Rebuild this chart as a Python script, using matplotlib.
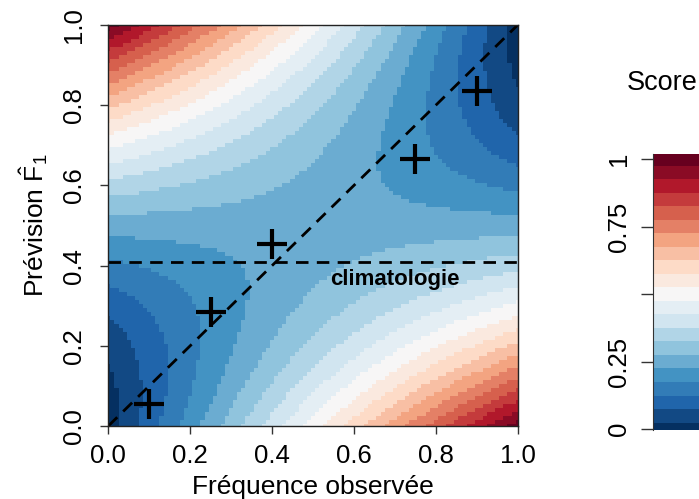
import numpy as np
import matplotlib as mpl
mpl.use('Agg')
from matplotlib import pyplot as plt
from matplotlib.colors import ListedColormap, BoundaryNorm

plt.rcParams['font.family'] = 'Liberation Sans'
plt.rcParams['mathtext.fontset'] = 'custom'
plt.rcParams['mathtext.rm'] = 'Liberation Sans'
plt.rcParams['mathtext.it'] = 'Liberation Sans'

# %%
# data
obsFreq = [0.10, 0.25, 0.40, 0.75, 0.90]
prevF1 = [0.055, 0.285, 0.455, 0.665, 0.835]
climato = 0.41
gridStep = 0.01
scoreLevels = np.arange(0, 1.0001, 0.05)
cbTicks = [0, 0.25, 0.5, 0.75, 1]
cbTickLabels = ['0', '0.25', '', '0.75', '1']
axTicks = [0.0, 0.2, 0.4, 0.6, 0.8, 1.0]

# %%
# Brier score on (observed frequency, forecast) grid
o = np.arange(0, 1 + gridStep / 2, gridStep)
f = np.arange(0, 1 + gridStep / 2, gridStep)
O, F = np.meshgrid(o, f)
score = O * (1 - F) ** 2 + (1 - O) * F ** 2
score = np.clip(score, 0, 1)

colors = plt.get_cmap('RdBu_r')(np.linspace(0, 1, len(scoreLevels)))
cmap = ListedColormap(colors)
bounds = np.concatenate([scoreLevels - 0.025, [scoreLevels[-1] + 0.025]])
norm = BoundaryNorm(bounds, cmap.N)

# %%
fig = plt.figure(figsize=(6.99, 4.99), dpi=100)
ax = fig.add_axes([108.3 / 699, 73 / 499, 409.4 / 699, 401 / 499])

edges = np.concatenate([o - gridStep / 2, [o[-1] + gridStep / 2]])
ax.pcolormesh(edges, edges, score, cmap=cmap, norm=norm, shading='flat')
ax.plot([0, 1], [0, 1], color='black', linestyle=(0, (4.5, 3)), linewidth=2)
ax.axhline(climato, color='black', linestyle=(0, (4.5, 3)), linewidth=2)
ax.plot(obsFreq, prevF1, linestyle='none', marker='+', markersize=22,
        markeredgewidth=3, color='black')
ax.text(0.7, 0.366, 'climatologie', fontsize=16, fontweight='bold',
        ha='center', va='center')

ax.set_xlim(0, 1)
ax.set_ylim(0, 1)
ax.set_xticks(axTicks)
ax.set_yticks(axTicks)
ax.set_xticklabels(['%.1f' % t for t in axTicks], fontsize=18.5)
ax.set_yticklabels(['%.1f' % t for t in axTicks], fontsize=18.5,
                   rotation=90, va='center')
ax.tick_params(axis='both', direction='out', length=6, width=1, color='#333333')
ax.tick_params(axis='x', pad=7)
ax.tick_params(axis='y', pad=10)
ax.set_xlabel('Fréquence observée', fontsize=19, labelpad=5)
ax.set_ylabel('Prévision $\\hat{\\mathrm{F}}_1$', fontsize=19, labelpad=9)
for s in ax.spines.values():
    s.set_color('#222222')
    s.set_linewidth(1)

# %%
# colour legend
cax = fig.add_axes([653 / 699, 68.9 / 499, 60 / 699, 275.7 / 499])
cax.pcolormesh([0, 1], bounds, scoreLevels.reshape(-1, 1), cmap=cmap, norm=norm)
cax.set_xlim(0, 1)
cax.set_ylim(-0.003, 1.017)
cax.set_xticks([])
cax.set_yticks(cbTicks)
cax.set_yticklabels(cbTickLabels, fontsize=18.5, rotation=90, va='center')
cax.tick_params(axis='y', direction='out', length=9, width=1, color='#333333', pad=7)
for k in ['top', 'right', 'bottom']:
    cax.spines[k].set_visible(False)
cax.spines['left'].set_color('#333333')
fig.text(627 / 699, (499 - 83) / 499, 'Score', fontsize=19.5, ha='left', va='center')

plt.savefig('out.png', dpi=100)
